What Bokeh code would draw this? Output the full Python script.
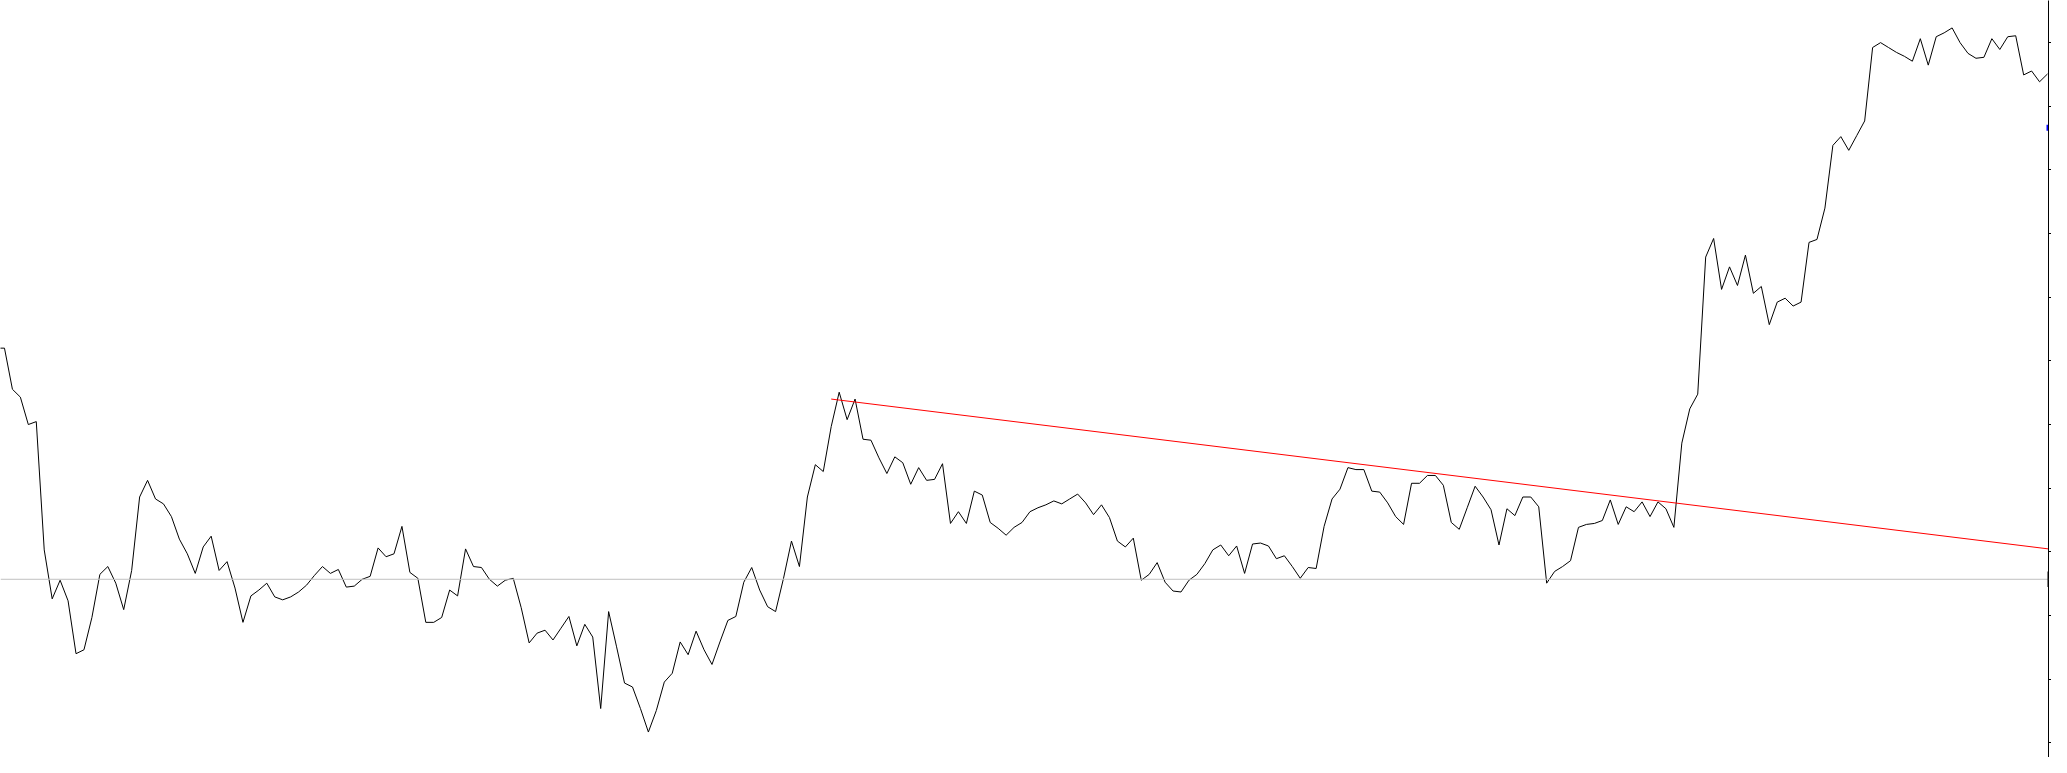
from bokeh.plotting import figure
from bokeh.models import Range1d, LinearAxis, FixedTicker, Span, BoxAnnotation, ColumnDataSource
from bokeh.embed import file_html
from bokeh.resources import INLINE

# bar index (one point per period)
index = list(range(-1, 258))

# closing values (height units)
close = [
    418, 418, 376, 368, 340, 343, 212, 162, 181, 160, 106, 110, 143, 187, 195, 178,
    151, 191, 266, 283, 264, 259, 246, 223, 208, 188, 215, 226, 191, 200, 173, 138,
    165, 171, 178, 164, 161, 164, 169, 176, 186, 195, 188, 192, 174, 175, 182, 185,
    214, 205, 208, 236, 189, 183, 138, 138, 143, 171, 165, 213, 195, 194, 182, 175,
    181, 183, 153, 117, 127, 130, 120, 132, 144, 114, 136, 123, 50, 149, 113, 76,
    72, 50, 26, 48, 77, 86, 118, 105, 129, 110, 95, 118, 140, 144, 179, 194,
    171, 154, 149, 183, 221, 195, 266, 299, 292, 338, 373, 345, 366, 325, 324, 306,
    290, 307, 301, 279, 296, 283, 284, 300, 239, 251, 239, 272, 268, 240, 234, 227,
    235, 240, 251, 255, 258, 262, 259, 264, 269, 260, 248, 258, 245, 221, 215, 224,
    181, 187, 199, 179, 170, 169, 181, 187, 198, 212, 217, 206, 216, 188, 218, 219,
    216, 203, 206, 195, 183, 194, 193, 236, 264, 274, 296, 294, 294, 272, 271, 260,
    246, 238, 280, 280, 288, 288, 278, 240, 233, 255, 277, 266, 253, 217, 254, 247,
    266, 266, 256, 178, 190, 195, 201, 235, 238, 239, 242, 263, 238, 256, 251, 261,
    246, 261, 254, 235, 321, 356, 371, 511, 530, 478, 501, 482, 513, 474, 481, 442,
    465, 469, 461, 465, 526, 529, 561, 625, 634, 620, 635, 650, 725, 730, 725, 720,
    716, 711, 734, 707, 736, 740, 745, 730, 719, 714, 715, 734, 723, 736, 737, 697,
    701, 690, 698,
]

# descending trend line (start index, end at right edge)
trend_x = [104, 257.125]
trend_y = [366, 213]

# horizontal reference level
level = 182

# marker level (blue tick at axis)
marker_level = 643

# right-axis tick positions (no labels shown)
tick_values = [15, 80, 145, 210, 275, 340, 405, 470, 535, 600, 665, 730]

W, H = 2051, 757

p = figure(
    width=W, height=H,
    output_backend="svg", toolbar_location=None,
    x_axis_type=None, y_axis_type=None,
    x_range=Range1d(-0.5, 257.125), y_range=Range1d(0, 773),
    min_border=0, outline_line_color=None,
    background_fill_color="white", border_fill_color="white",
)

ax = LinearAxis(
    ticker=FixedTicker(ticks=tick_values),
    major_tick_out=3, major_tick_in=0,
    minor_tick_out=0, minor_tick_in=0,
    major_label_text_color=None, major_label_text_font_size="1px",
    major_label_standoff=0,
    axis_line_color="black", axis_line_width=1,
    major_tick_line_color="black",
)
p.add_layout(ax, "right")

p.add_layout(Span(location=level, dimension="width", line_color="#c0c0c0", line_width=1))

src = ColumnDataSource(dict(x=index, y=close))
p.line("x", "y", source=src, line_color="black", line_width=1)
p.line(trend_x, trend_y, line_color="#ff0000", line_width=1)

p.rect(x=[257.0], y=[marker_level], width=2, height=6,
       width_units="screen", height_units="screen",
       fill_color="#0000ff", line_color=None)

# black level marker box just right of the axis line
p.add_layout(BoxAnnotation(
    left=W - 4, right=W, top=level + 8, bottom=level - 8,
    left_units="screen", right_units="screen",
    top_units="data", bottom_units="data",
    fill_color="black", fill_alpha=1.0, line_color=None,
))

open("out.html", "w").write(file_html(p, INLINE))
